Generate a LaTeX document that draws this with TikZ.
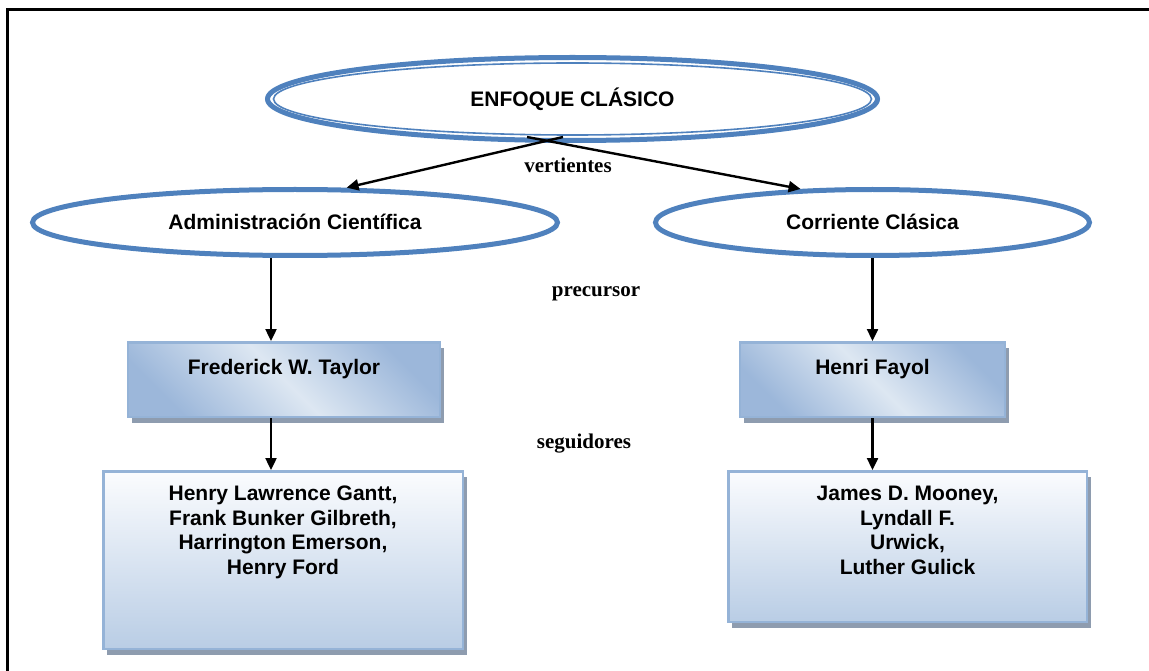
\documentclass[tikz,border=0pt]{standalone}
\usepackage{fontspec}
\setmainfont{Liberation Serif}
\setsansfont{Liberation Sans}
\usetikzlibrary{shapes.geometric,arrows.meta,shadows,calc}

\definecolor{ovalblue}{HTML}{4F81BD}
\definecolor{boxedge}{HTML}{95B3D7}
\definecolor{boxshadow}{HTML}{8E9CAF}
\definecolor{boxdark}{HTML}{9CB7DA}
\definecolor{boxlight}{HTML}{DDE7F2}
\definecolor{boxtop}{HTML}{FBFCFE}
\definecolor{boxlow}{HTML}{B9CDE5}

\tikzset{
  bodyfont/.style={font=\sffamily\bfseries\fontsize{21}{24.5}\selectfont},
  oval/.style={ellipse, draw=ovalblue, line width=5pt, fill=white, inner sep=0pt,
    text height=15pt, text depth=0pt, bodyfont},
  namebox/.style={rectangle, draw=boxedge, line width=2.5pt, inner sep=0pt,
    drop shadow={shadow xshift=4pt, shadow yshift=-6pt, fill=boxshadow, draw=none, opacity=1}},
  headbox/.style={namebox, top color=boxdark, bottom color=boxdark, middle color=boxlight,
    shading angle=-45, text height=32pt, text depth=42.5pt, bodyfont},
  listbox/.style={namebox, top color=boxtop, bottom color=boxlow},
  listtext/.style={align=center, inner sep=0pt, anchor=north, bodyfont},
  tag/.style={anchor=base, inner sep=0pt, font=\rmfamily\bfseries\fontsize{21}{24}\selectfont},
  arr/.style={line width=2.4pt, -{Triangle[length=12pt,width=11pt]}}
}

\begin{document}
\begin{tikzpicture}[x=1pt,y=-1pt]
\useasboundingbox (0,0) rectangle (1149,671);

% page frame (top and left rules)
\draw[line width=3pt] (7,671) -- (7,10) -- (1149,10);

% main concept with double outline
\node[oval, minimum width=610pt, minimum height=83pt] (enfoque) at (572.5,99) {ENFOQUE CLÁSICO};
\draw[ovalblue, line width=1.6pt] (enfoque.center) ellipse [x radius=299pt, y radius=36pt];

% the two branches
\node[oval, minimum width=525pt, minimum height=66pt] (adm) at (295,222.5) {Administración Científica};
\node[oval, minimum width=434pt, minimum height=66pt] (cor) at (872.5,222.5) {Corriente Clásica};

% precursors
\node[headbox, minimum width=312pt] (taylor) at (284,379.5) {Frederick W. Taylor};
\node[headbox, minimum width=265pt] (fayol) at (872.5,379.5) {Henri Fayol};

% followers
\node[listbox, minimum width=359.5pt, minimum height=177.5pt] (gantt) at (283,560) {};
\node[listbox, minimum width=358.5pt, minimum height=150.5pt] (mooney) at (907.5,546.5) {};
\node[listtext] (ganttnames) at ([yshift=-16pt]gantt.north)
  {Henry Lawrence Gantt,\\Frank Bunker Gilbreth,\\Harrington Emerson,\\Henry Ford};
\node[listtext] (mooneynames) at ([yshift=-16pt]mooney.north)
  {James D. Mooney,\\Lyndall F.\\Urwick,\\Luther Gulick};

% relation labels
\node[tag] (vert) at (568,173) {vertientes};
\node[tag] (prec) at (596,296) {precursor};
\node[tag] (segu) at (584,448) {seguidores};

% connectors
\coordinate (forkL) at (563,137);
\coordinate (forkR) at (527,137);
\draw[arr] (forkL) -- (adm.34);
\draw[arr] (forkR) -- (cor.155);

\coordinate (leftdrop) at (271,258);
\draw[arr] (leftdrop) -- (leftdrop |- taylor.north);
\draw[arr] (leftdrop |- taylor.south) -- (leftdrop |- gantt.north);
\draw[arr] (cor.south) -- (fayol.north);
\draw[arr] (fayol.south) -- (fayol.south |- mooney.north);
\end{tikzpicture}
\end{document}
